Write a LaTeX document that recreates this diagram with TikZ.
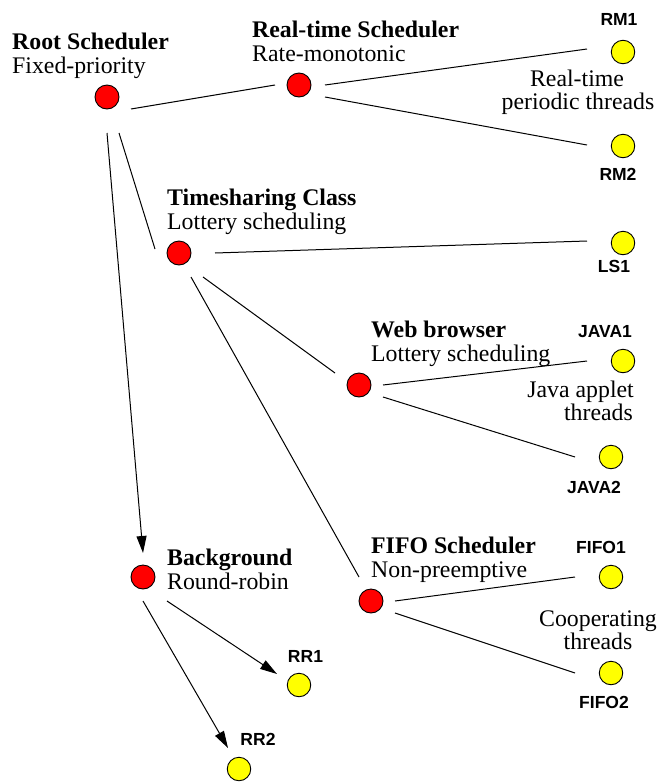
\documentclass[tikz,border=0pt]{standalone}
\usepackage{fontspec}
\setmainfont{Liberation Serif}
\newfontfamily\lsans{Liberation Sans}
\usetikzlibrary{arrows.meta}
\definecolor{schedred}{RGB}{255,0,0}
\definecolor{threadyel}{RGB}{255,255,0}
\begin{document}
\begin{tikzpicture}[x=1pt,y=-1pt,
  sched/.style={circle,draw=black,line width=0.9pt,fill=schedred,minimum size=24pt,inner sep=0pt},
  thread/.style={circle,draw=black,line width=0.9pt,fill=threadyel,minimum size=23.5pt,inner sep=0pt},
  title/.style={anchor=base west,inner sep=0pt,font=\fontsize{23.8}{24}\selectfont\bfseries},
  sub/.style={anchor=base west,inner sep=0pt,font=\fontsize{23.8}{24}\selectfont},
  note/.style={anchor=base,inner sep=0pt,font=\fontsize{23.8}{24}\selectfont},
  notee/.style={anchor=base east,inner sep=0pt,font=\fontsize{23.8}{24}\selectfont},
  lbl/.style={anchor=base,inner sep=0pt,font=\lsans\fontsize{17.5}{18}\selectfont\bfseries},
  conn/.style={line width=1pt},
  arr/.style={line width=1pt,-{Triangle[length=17pt,width=10pt]}}]
\useasboundingbox (0,0) rectangle (659,782);

% scheduler nodes
\node[sched] (root) at (107,97) {};
\node[sched] (rt) at (299,85) {};
\node[sched] (ts) at (179,253) {};
\node[sched] (web) at (359,385) {};
\node[sched] (fifo) at (371,601) {};
\node[sched] (bg) at (143,577) {};

% thread nodes
\node[thread] (rm1) at (623,52) {};
\node[thread] (rm2) at (623,146) {};
\node[thread] (ls1) at (623,243) {};
\node[thread] (java1) at (623,361) {};
\node[thread] (java2) at (611,457) {};
\node[thread] (fifo1) at (611,577) {};
\node[thread] (fifo2) at (611,673) {};
\node[thread] (rr1) at (299,685) {};
\node[thread] (rr2) at (239,769) {};

% scheduler texts
\node[title] (rootT) at (12,49) {Root Scheduler};
\node[sub] (rootS) at (12,73) {Fixed-priority};
\node[title] (rtT) at (252,37) {Real-time Scheduler};
\node[sub] (rtS) at (252,61) {Rate-monotonic};
\node[title] (tsT) at (167,205) {Timesharing Class};
\node[sub] (tsS) at (167,229) {Lottery scheduling};
\node[title] (webT) at (371,337) {Web browser};
\node[sub] (webS) at (371,361) {Lottery scheduling};
\node[title] (fifoT) at (371,553) {FIFO Scheduler};
\node[sub] (fifoS) at (371,577) {Non-preemptive};
\node[title] (bgT) at (167,565) {Background};
\node[sub] (bgS) at (167,589) {Round-robin};

% notes
\node[note] (rtN1) at (577,86) {Real-time};
\node[note] (rtN2) at (578,109) {periodic threads};
\node[notee] (jaN1) at (634,397) {Java applet};
\node[notee] (jaN2) at (633,420) {threads};
\node[note] (coN1) at (598,626) {Cooperating};
\node[note] (coN2) at (598,649) {threads};

% thread labels
\node[lbl] (rm1L) at (619,25) {RM1};
\node[lbl] (rm2L) at (618,180) {RM2};
\node[lbl] (ls1L) at (614,272) {LS1};
\node[lbl] (java1L) at (605,337) {JAVA1};
\node[lbl] (java2L) at (594,493) {JAVA2};
\node[lbl] (fifo1L) at (601,553) {FIFO1};
\node[lbl] (fifo2L) at (604,708) {FIFO2};
\node[lbl] (rr1L) at (305.5,662) {RR1};
\node[lbl] (rr2L) at (258,745) {RR2};

% connectors
\draw[conn] ([shift={(24,12)}]root.center) -- ([shift={(-24,0)}]rt.center);
\draw[conn] ([shift={(12,36)}]root.center) -- ([shift={(-24,-4)}]ts.center);
\draw[arr] ([shift={(0,36)}]root.center) -- ([shift={(0,-24)}]bg.center);
\draw[conn] ([shift={(26,0)}]rt.center) -- ([shift={(-36,-3)}]rm1.center);
\draw[conn] ([shift={(26,12)}]rt.center) -- ([shift={(-36,-1)}]rm2.center);
\draw[conn] ([shift={(36,0)}]ts.center) -- ([shift={(-36,-2)}]ls1.center);
\draw[conn] ([shift={(24,24)}]ts.center) -- ([shift={(-24,-12)}]web.center);
\draw[conn] ([shift={(12,24)}]ts.center) -- ([shift={(-12,-24)}]fifo.center);
\draw[conn] ([shift={(24,0)}]web.center) -- ([shift={(-36,0)}]java1.center);
\draw[conn] ([shift={(24,12)}]web.center) -- ([shift={(-36,0)}]java2.center);
\draw[conn] ([shift={(24,0)}]fifo.center) -- ([shift={(-36,0)}]fifo1.center);
\draw[conn] ([shift={(24,12)}]fifo.center) -- ([shift={(-36,0)}]fifo2.center);
\draw[arr] ([shift={(24,24)}]bg.center) -- ([shift={(-22,-11)}]rr1.center);
\draw[arr] ([shift={(0,24)}]bg.center) -- ([shift={(-11,-21)}]rr2.center);
\end{tikzpicture}
\end{document}
